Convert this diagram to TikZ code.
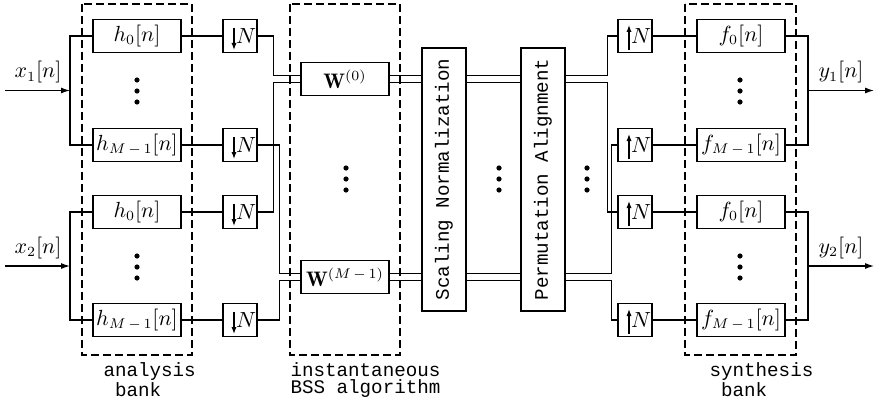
\documentclass[tikz,border=0pt]{standalone}
\usepackage{fontspec}
\setmonofont{Liberation Mono}
\usepackage{graphicx}
\usetikzlibrary{arrows.meta}

\tikzset{
  blk/.style={draw, minimum width=44pt, minimum height=16.5pt, inner sep=0pt},
  rate/.style={draw, minimum width=17pt, minimum height=16.5pt, inner sep=0pt},
  down/.style={rate, path picture={
    \draw[-{Latex[length=3.5pt,width=2.6pt]}]
      ([xshift=-3pt,yshift=4pt]path picture bounding box.center) --
      ([xshift=-3pt,yshift=-7pt]path picture bounding box.center);}},
  upward/.style={rate, path picture={
    \draw[-{Latex[length=3.5pt,width=2.6pt]}]
      ([xshift=-3pt,yshift=-7pt]path picture bounding box.center) --
      ([xshift=-3pt,yshift=5.5pt]path picture bounding box.center);}},
  tall/.style={draw, minimum width=22pt, minimum height=131.5pt, inner sep=0pt,
    font=\fontsize{9.6}{11}\selectfont\ttfamily},
  bankbox/.style={draw, dash pattern=on 4pt off 2pt},
  caption/.style={font=\fontsize{9.6}{8.6}\selectfont\ttfamily, align=left,
    inner sep=0pt, anchor=north west},
  sig/.style={-{Latex[length=4.5pt,width=3pt]}},
}
\newcommand{\rateN}{\hspace{6pt}$N$}
\newcommand{\dotcol}[2]{\foreach \d in {-11,0,11} \fill (#1,#2+\d) circle (1.3pt);}

\begin{document}
\begin{tikzpicture}[x=0.5pt, y=-0.5pt, line width=0.6pt,
  font=\fontsize{10.5}{12}\selectfont]

  \useasboundingbox (0,0) rectangle (876,401);

  % Dashed frames
  \draw[bankbox] (82,4) rectangle (192,355);
  \draw[bankbox] (290,4) rectangle (400,355);
  \draw[bankbox] (685,4) rectangle (796,355);

  % Analysis filters
  \node[blk] (h0a) at (137,36) {$h_0[n]$};
  \node[blk] (hMa) at (137,145) {$h_{M\,-\,1}[n]$};
  \node[blk] (h0b) at (137,212) {$h_0[n]$};
  \node[blk] (hMb) at (137,320) {$h_{M\,-\,1}[n]$};

  % Decimators
  \node[down] (dn0a) at (240,36) {\rateN};
  \node[down] (dnMa) at (240,145) {\rateN};
  \node[down] (dn0b) at (240,212) {\rateN};
  \node[down] (dnMb) at (240,320) {\rateN};

  % Separation matrices
  \node[blk] (W0) at (345,79) {$\mathbf{W}^{(0)}$};
  \node[blk] (WM) at (345,277) {$\mathbf{W}^{(M\,-\,1)}$};

  % Post-processing
  \node[tall] (scal) at (444,179.5) {\rotatebox{90}{Scaling Normalization}};
  \node[tall] (perm) at (543,179.5) {\rotatebox{90}{Permutation Alignment}};

  % Expanders
  \node[upward] (up0a) at (635,36) {\rateN};
  \node[upward] (upMa) at (635,145) {\rateN};
  \node[upward] (up0b) at (635,212) {\rateN};
  \node[upward] (upMb) at (635,320) {\rateN};

  % Synthesis filters
  \node[blk] (f0a) at (741,36) {$f_0[n]$};
  \node[blk] (fMa) at (741,145) {$f_{M\,-\,1}[n]$};
  \node[blk] (f0b) at (741,212) {$f_0[n]$};
  \node[blk] (fMb) at (741,320) {$f_{M\,-\,1}[n]$};

  % Rails of the double lines
  \coordinate (r1u) at (0,75.5);
  \coordinate (r1d) at (0,82.5);
  \coordinate (r2u) at (0,273.5);
  \coordinate (r2d) at (0,280.5);

  % Inputs
  \coordinate (x1in) at (5,90.5);
  \coordinate (j1) at (70,90.5);
  \coordinate (x2in) at (5,266);
  \coordinate (j2) at (70,266);
  \draw[sig] (x1in) -- (j1);
  \draw[sig] (x2in) -- (j2);
  \node[above] (lx1) at (38,90.5) {$x_1[n]$};
  \node[above] (lx2) at (38,266) {$x_2[n]$};
  \draw (h0a.west) -| (j1) |- (hMa.west);
  \draw (h0b.west) -| (j2) |- (hMb.west);

  % Filters to decimators
  \draw (h0a) -- (dn0a);
  \draw (hMa) -- (dnMa);
  \draw (h0b) -- (dn0b);
  \draw (hMb) -- (dnMb);

  % Decimators to separation
  \draw (dn0a.east) -- ++(16,0) |- (W0.west |- r1u);
  \draw (dn0b.east) -- ++(16,0) |- (W0.west |- r1d);
  \draw (dnMa.east) -- ++(22,0) |- (WM.west |- r2u);
  \draw (dnMb.east) -- ++(22,0) |- (WM.west |- r2d);

  % Double lines through the middle
  \foreach \r in {r1u,r1d,r2u,r2d}{
    \draw (W0.east |- \r) -- (scal.west |- \r);
    \draw (scal.east |- \r) -- (perm.west |- \r);
  }

  % Alignment to expanders
  \draw (perm.east |- r1u) -- ++(42,0) |- (up0a.west);
  \draw (perm.east |- r1d) -- ++(42,0) |- (up0b.west);
  \draw (perm.east |- r2u) -- ++(46,0) |- (upMa.west);
  \draw (perm.east |- r2d) -- ++(46,0) |- (upMb.west);

  % Expanders to filters
  \draw (up0a) -- (f0a);
  \draw (upMa) -- (fMa);
  \draw (up0b) -- (f0b);
  \draw (upMb) -- (fMb);

  % Outputs
  \coordinate (j3) at (808,90.5);
  \coordinate (y1out) at (874,90.5);
  \coordinate (j4) at (808,266);
  \coordinate (y2out) at (874,266);
  \draw (f0a.east) -| (j3) |- (fMa.east);
  \draw (f0b.east) -| (j4) |- (fMb.east);
  \draw[sig] (j3) -- (y1out);
  \draw[sig] (j4) -- (y2out);
  \node[above] (ly1) at (841,90.5) {$y_1[n]$};
  \node[above] (ly2) at (841,266) {$y_2[n]$};

  % Dots
  \dotcol{137}{91}
  \dotcol{137}{267}
  \dotcol{346}{179}
  \dotcol{499}{179}
  \dotcol{587}{179}
  \dotcol{740}{91}
  \dotcol{740}{267}

  % Captions
  \node[caption] (capA) at (103,362) {analysis\\\phantom{a}bank};
  \node[caption] (capB) at (290,362) {instantaneous\\BSS algorithm};
  \node[caption] (capC) at (709,362) {synthesis\\\phantom{s}bank};

\end{tikzpicture}
\end{document}
